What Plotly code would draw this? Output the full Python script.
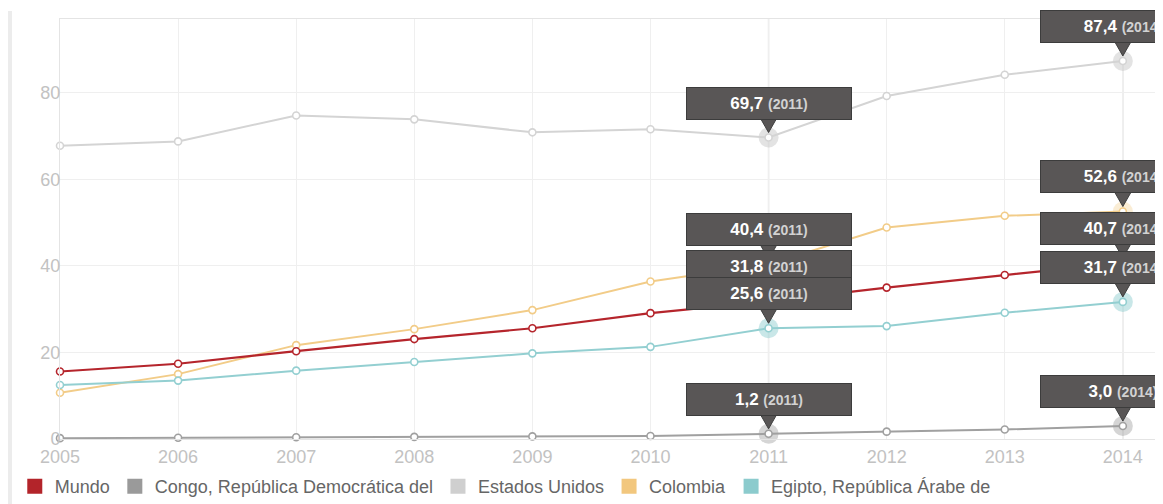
import plotly.graph_objects as go

years = [2005, 2006, 2007, 2008, 2009, 2010, 2011, 2012, 2013, 2014]
mundo = [15.6, 17.4, 20.3, 23.1, 25.6, 29.1, 31.8, 35.0, 37.9, 40.7]
congo = [0.2, 0.3, 0.4, 0.5, 0.6, 0.7, 1.2, 1.7, 2.2, 3.0]
estados_unidos = [67.8, 68.8, 74.8, 73.9, 70.9, 71.6, 69.7, 79.3, 84.2, 87.4]
colombia = [10.7, 15.0, 21.7, 25.4, 29.8, 36.4, 40.4, 48.9, 51.6, 52.6]
egipto = [12.5, 13.5, 15.8, 17.8, 19.8, 21.3, 25.6, 26.1, 29.2, 31.7]

names = ["Mundo", "Congo, República Democrática del", "Estados Unidos",
         "Colombia", "Egipto, República Árabe de"]
series = [mundo, congo, estados_unidos, colombia, egipto]
line_colors = ["#b5252c", "#a0a0a0", "#d4d4d4", "#f2cc88", "#93cfd1"]
legend_colors = ["#b3242a", "#9a9a9a", "#cfcfcf", "#f2c77e", "#8ccbcd"]
halo_colors = ["rgba(184,39,46,0.3)", "rgba(150,150,150,0.4)", "rgba(200,200,200,0.5)",
               "rgba(242,204,136,0.35)", "rgba(147,207,209,0.5)"]
highlight_years = [2011, 2014]
y_ticks = [0, 20, 40, 60, 80]

FONT = "Arial, Liberation Sans, sans-serif"

fig = go.Figure()

draw_order = [2, 3, 4, 1, 0]
for i in draw_order:
    hx = highlight_years
    hy = [series[i][years.index(yr)] for yr in hx]
    fig.add_trace(go.Scatter(
        x=hx, y=hy, mode="markers", showlegend=False, hoverinfo="skip",
        marker=dict(size=20, color=halo_colors[i], line=dict(width=0)),
        cliponaxis=False))
for i in draw_order:
    fig.add_trace(go.Scatter(
        x=years, y=series[i], mode="lines+markers", name=names[i], showlegend=False,
        line=dict(color=line_colors[i], width=2.2 if i == 0 else 2),
        marker=dict(symbol="circle", size=7, color="white",
                    line=dict(color=line_colors[i], width=1.6)),
        cliponaxis=False))

for i in range(len(names)):
    fig.add_trace(go.Scatter(
        x=[None], y=[None], mode="markers", name=names[i],
        marker=dict(symbol="square", size=15, color=legend_colors[i])))

# hover cross lines
for yr in highlight_years:
    fig.add_shape(type="line", xref="x", yref="paper", x0=yr, x1=yr, y0=0, y1=1,
                  line=dict(color="#e2e2e2", width=1.5), layer="below")

# tooltips
tip_order = [2, 3, 0, 4, 1]
for yr in highlight_years:
    for i in tip_order:
        v = series[i][years.index(yr)]
        fig.add_shape(type="path", xref="x", yref="y", xsizemode="pixel", ysizemode="pixel",
                      xanchor=yr, yanchor=v,
                      path="M -8,19 L 8,19 L 0,5 Z",
                      fillcolor="#585555", line=dict(color="#3e3e3e", width=1), layer="above")
for yr in highlight_years:
    for i in tip_order:
        v = series[i][years.index(yr)]
        label = f"{v:.1f}".replace(".", ",")
        fig.add_annotation(
            x=yr, y=v, xref="x", yref="y", showarrow=False,
            yanchor="bottom", yshift=18, width=162, height=29,
            bgcolor="#595656", bordercolor="#3c3c3c", borderwidth=1,
            text=f"<b>{label}</b> <span style='font-size:14px;color:#d2d2d2'><b>({yr})</b></span>",
            font=dict(family=FONT, size=17, color="white"), align="center")

# left page border
fig.add_shape(type="line", xref="paper", yref="paper",
              x0=-50 / 1103, x1=-50 / 1103, y0=-90 / 420, y1=428 / 420,
              line=dict(color="#ececec", width=4))

# page body has an 8px margin; the figure is taller than the window so the
# legend never pushes the margins, the window simply crops the blank bottom
fig.update_layout(
    width=1155, height=530,
    margin=dict(l=52, r=0, t=11, b=99),
    paper_bgcolor="white", plot_bgcolor="white",
    font=dict(family=FONT, size=18, color="#666"),
    showlegend=True,
    legend=dict(orientation="h", x=-0.041, xanchor="left", y=-0.069, yanchor="top",
                font=dict(family=FONT, size=18, color="#666"),
                itemclick=False, bgcolor="rgba(0,0,0,0)", tracegroupgap=0),
    xaxis=dict(range=[2005, 2014.34], tickmode="array", tickvals=years,
               ticktext=[str(y) for y in years],
               showgrid=True, gridcolor="#efefef", gridwidth=1,
               zeroline=False, showline=True, linecolor="#e4e4e4", mirror=True,
               tickfont=dict(family=FONT, size=18, color="#c2c2c2"),
               ticks="outside", ticklen=1, tickcolor="rgba(0,0,0,0)"),
    yaxis=dict(range=[0, 97.1], tickmode="array", tickvals=y_ticks,
               showgrid=True, gridcolor="#efefef", gridwidth=1,
               zeroline=False, showline=True, linecolor="#e4e4e4", mirror=True,
               tickfont=dict(family=FONT, size=18, color="#c2c2c2"),
               ticks="", ticklabelstandoff=-5),
)

fig.write_html("out.html")
